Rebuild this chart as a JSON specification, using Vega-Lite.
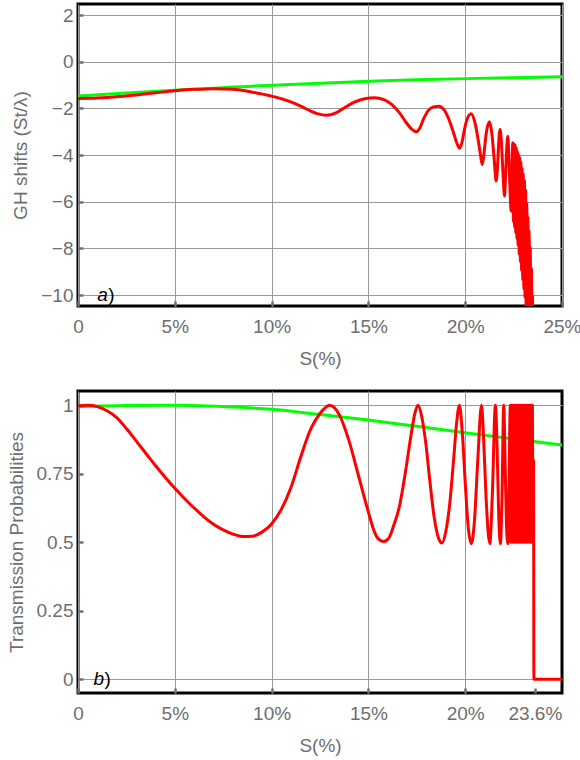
{
  "$schema": "https://vega.github.io/schema/vega-lite/v6.json",
  "padding": {"left": 5, "top": 2, "right": 0, "bottom": 0},
  "spacing": 19,
  "config": {
    "font": "Liberation Sans",
    "view": {"stroke": "black", "strokeWidth": 3},
    "axis": {
      "grid": true,
      "gridColor": "#9a9a9a",
      "gridWidth": 1,
      "domain": false,
      "labelColor": "#6e6e6e",
      "labelFontSize": 19,
      "labelFlush": false,
      "labelOverlap": false,
      "titleColor": "#6e6e6e",
      "titleFontSize": 19,
      "titleFontWeight": "normal",
      "tickColor": "#707070",
      "tickWidth": 2.5,
      "tickSize": -5
    },
    "axisX": {"labelPadding": 16, "titlePadding": 13},
    "axisY": {"labelPadding": 10, "titlePadding": 10}
  },
  "datasets": {
    "ghGreen": [
      {"S": 0, "shift": -1.47}, {"S": 2.5, "shift": -1.34}, {"S": 5, "shift": -1.22},
      {"S": 7.5, "shift": -1.11}, {"S": 10, "shift": -1.0}, {"S": 11, "shift": -0.97},
      {"S": 12.5, "shift": -0.92}, {"S": 15, "shift": -0.83}, {"S": 17.5, "shift": -0.77},
      {"S": 20, "shift": -0.72}, {"S": 22.5, "shift": -0.68}, {"S": 25, "shift": -0.64}
    ],
    "ghRed": [
      {"S": 0, "shift": -1.57}, {"S": 1, "shift": -1.55}, {"S": 2, "shift": -1.5},
      {"S": 3, "shift": -1.42}, {"S": 4, "shift": -1.33}, {"S": 5, "shift": -1.24},
      {"S": 6, "shift": -1.18}, {"S": 7, "shift": -1.15}, {"S": 8, "shift": -1.18},
      {"S": 9, "shift": -1.3}, {"S": 10, "shift": -1.47}, {"S": 11, "shift": -1.72},
      {"S": 11.5, "shift": -1.9}, {"S": 12, "shift": -2.1}, {"S": 12.4, "shift": -2.23},
      {"S": 12.83, "shift": -2.29}, {"S": 13.3, "shift": -2.2}, {"S": 13.8, "shift": -1.95},
      {"S": 14.3, "shift": -1.72}, {"S": 14.8, "shift": -1.58}, {"S": 15.32, "shift": -1.54},
      {"S": 15.8, "shift": -1.62}, {"S": 16.2, "shift": -1.82}, {"S": 16.6, "shift": -2.18},
      {"S": 16.95, "shift": -2.6}, {"S": 17.25, "shift": -2.9}, {"S": 17.47, "shift": -3.0},
      {"S": 17.65, "shift": -2.85}, {"S": 17.85, "shift": -2.45}, {"S": 18.1, "shift": -2.08},
      {"S": 18.35, "shift": -1.93}, {"S": 18.64, "shift": -1.9}, {"S": 18.9, "shift": -2.05},
      {"S": 19.15, "shift": -2.45}, {"S": 19.4, "shift": -3.05}, {"S": 19.6, "shift": -3.55},
      {"S": 19.71, "shift": -3.71}, {"S": 19.82, "shift": -3.5}, {"S": 19.95, "shift": -2.95},
      {"S": 20.1, "shift": -2.45}, {"S": 20.31, "shift": -2.23}, {"S": 20.5, "shift": -2.6},
      {"S": 20.7, "shift": -3.5}, {"S": 20.8, "shift": -4.05}, {"S": 20.88, "shift": -4.4},
      {"S": 20.96, "shift": -4.0}, {"S": 21.08, "shift": -3.1}, {"S": 21.25, "shift": -2.57},
      {"S": 21.38, "shift": -3.1}, {"S": 21.5, "shift": -4.2}, {"S": 21.6, "shift": -5.11},
      {"S": 21.67, "shift": -4.5}, {"S": 21.73, "shift": -3.5}, {"S": 21.8, "shift": -2.9},
      {"S": 21.88, "shift": -3.6}, {"S": 21.96, "shift": -4.9}, {"S": 22.03, "shift": -5.75},
      {"S": 22.08, "shift": -5.0}, {"S": 22.14, "shift": -3.8}, {"S": 22.2, "shift": -3.19},
      {"S": 22.26, "shift": -4.2}, {"S": 22.32, "shift": -5.6}, {"S": 22.37, "shift": -6.4},
      {"S": 22.41, "shift": -5.0}, {"S": 22.46, "shift": -3.47},
      {"S": 22.49, "shift": -6.85}, {"S": 22.52, "shift": -3.52}, {"S": 22.55, "shift": -7.08},
      {"S": 22.58, "shift": -3.57}, {"S": 22.61, "shift": -7.33}, {"S": 22.64, "shift": -3.7},
      {"S": 22.67, "shift": -7.58}, {"S": 22.7, "shift": -3.85}, {"S": 22.73, "shift": -7.86},
      {"S": 22.76, "shift": -3.97}, {"S": 22.79, "shift": -8.25}, {"S": 22.82, "shift": -4.1},
      {"S": 22.85, "shift": -8.58}, {"S": 22.88, "shift": -4.3}, {"S": 22.91, "shift": -8.95},
      {"S": 22.94, "shift": -4.55}, {"S": 22.97, "shift": -9.35}, {"S": 23.0, "shift": -4.8},
      {"S": 23.03, "shift": -9.75}, {"S": 23.06, "shift": -5.1}, {"S": 23.09, "shift": -10.1},
      {"S": 23.12, "shift": -5.5}, {"S": 23.15, "shift": -11}, {"S": 23.18, "shift": -6.05},
      {"S": 23.21, "shift": -11}, {"S": 23.24, "shift": -6.65}, {"S": 23.27, "shift": -11},
      {"S": 23.3, "shift": -7.25}, {"S": 23.33, "shift": -11}, {"S": 23.36, "shift": -7.95},
      {"S": 23.39, "shift": -11}, {"S": 23.42, "shift": -8.85}, {"S": 23.45, "shift": -11},
      {"S": 23.47, "shift": -10.0}, {"S": 23.49, "shift": -11}
    ],
    "tGreen": [
      {"S": 0, "T": 0.995}, {"S": 2.5, "T": 0.999}, {"S": 5, "T": 1.0}, {"S": 7.5, "T": 0.995},
      {"S": 10, "T": 0.985}, {"S": 12.5, "T": 0.966}, {"S": 15, "T": 0.946}, {"S": 17.5, "T": 0.923},
      {"S": 20, "T": 0.9}, {"S": 22.5, "T": 0.877}, {"S": 25, "T": 0.855}
    ],
    "tRed": [
      {"S": 0, "T": 0.997}, {"S": 0.5, "T": 1.0}, {"S": 1.0, "T": 0.995}, {"S": 1.5, "T": 0.98},
      {"S": 2, "T": 0.955}, {"S": 2.5, "T": 0.915}, {"S": 3, "T": 0.87}, {"S": 3.5, "T": 0.825},
      {"S": 4, "T": 0.78}, {"S": 4.5, "T": 0.737}, {"S": 5, "T": 0.697}, {"S": 5.5, "T": 0.66},
      {"S": 6, "T": 0.625}, {"S": 6.5, "T": 0.593}, {"S": 7, "T": 0.566}, {"S": 7.5, "T": 0.545},
      {"S": 8, "T": 0.53}, {"S": 8.5, "T": 0.521}, {"S": 9, "T": 0.522}, {"S": 9.5, "T": 0.537},
      {"S": 10, "T": 0.567}, {"S": 10.5, "T": 0.62}, {"S": 11, "T": 0.7}, {"S": 11.5, "T": 0.81},
      {"S": 12, "T": 0.91}, {"S": 12.5, "T": 0.97}, {"S": 13, "T": 1.0}, {"S": 13.5, "T": 0.965},
      {"S": 14, "T": 0.87}, {"S": 14.5, "T": 0.74}, {"S": 15, "T": 0.61}, {"S": 15.3, "T": 0.54},
      {"S": 15.55, "T": 0.51}, {"S": 15.8, "T": 0.503}, {"S": 16.05, "T": 0.515}, {"S": 16.3, "T": 0.56},
      {"S": 16.6, "T": 0.63}, {"S": 16.9, "T": 0.75}, {"S": 17.2, "T": 0.89}, {"S": 17.4, "T": 0.97},
      {"S": 17.56, "T": 1.0}, {"S": 17.75, "T": 0.96}, {"S": 17.95, "T": 0.87}, {"S": 18.15, "T": 0.74},
      {"S": 18.4, "T": 0.59}, {"S": 18.6, "T": 0.52}, {"S": 18.8, "T": 0.497}, {"S": 19.0, "T": 0.54},
      {"S": 19.2, "T": 0.64}, {"S": 19.4, "T": 0.8}, {"S": 19.55, "T": 0.93}, {"S": 19.7, "T": 1.0},
      {"S": 19.85, "T": 0.9}, {"S": 20.0, "T": 0.72}, {"S": 20.15, "T": 0.56}, {"S": 20.32, "T": 0.495},
      {"S": 20.48, "T": 0.58}, {"S": 20.65, "T": 0.8}, {"S": 20.84, "T": 1.0}, {"S": 20.95, "T": 0.88},
      {"S": 21.08, "T": 0.66}, {"S": 21.27, "T": 0.495}, {"S": 21.4, "T": 0.67}, {"S": 21.56, "T": 1.0},
      {"S": 21.65, "T": 0.84}, {"S": 21.73, "T": 0.6}, {"S": 21.82, "T": 0.495}, {"S": 21.9, "T": 0.66},
      {"S": 21.99, "T": 1.0}, {"S": 22.06, "T": 0.8}, {"S": 22.13, "T": 0.57}, {"S": 22.2, "T": 0.495},
      {"S": 22.26, "T": 0.7}, {"S": 22.33, "T": 1.0}, {"S": 22.36, "T": 0.5}, {"S": 22.39, "T": 1.0},
      {"S": 22.42, "T": 0.5}, {"S": 22.45, "T": 1.0}, {"S": 22.48, "T": 0.5}, {"S": 22.51, "T": 1.0},
      {"S": 22.54, "T": 0.5}, {"S": 22.57, "T": 1.0}, {"S": 22.6, "T": 0.5}, {"S": 22.63, "T": 1.0},
      {"S": 22.66, "T": 0.5}, {"S": 22.69, "T": 1.0}, {"S": 22.72, "T": 0.5}, {"S": 22.75, "T": 1.0},
      {"S": 22.78, "T": 0.5}, {"S": 22.81, "T": 1.0}, {"S": 22.84, "T": 0.5}, {"S": 22.87, "T": 1.0},
      {"S": 22.9, "T": 0.5}, {"S": 22.93, "T": 1.0}, {"S": 22.96, "T": 0.5}, {"S": 22.99, "T": 1.0},
      {"S": 23.02, "T": 0.5}, {"S": 23.05, "T": 1.0}, {"S": 23.08, "T": 0.5}, {"S": 23.11, "T": 1.0},
      {"S": 23.14, "T": 0.5}, {"S": 23.17, "T": 1.0}, {"S": 23.2, "T": 0.5}, {"S": 23.23, "T": 1.0},
      {"S": 23.26, "T": 0.5}, {"S": 23.29, "T": 1.0}, {"S": 23.32, "T": 0.5}, {"S": 23.35, "T": 1.0},
      {"S": 23.38, "T": 0.5}, {"S": 23.41, "T": 1.0}, {"S": 23.44, "T": 0.5}, {"S": 23.47, "T": 1.0},
      {"S": 23.5, "T": 0.5}, {"S": 23.53, "T": 0.8}, {"S": 23.55, "T": 0}, {"S": 25, "T": 0}
    ]
  },
  "vconcat": [
    {
      "width": 484,
      "height": 302,
      "layer": [
        {
          "data": {"name": "ghGreen"},
          "mark": {"type": "line", "color": "#00ff00", "strokeWidth": 3, "clip": true, "interpolate": "monotone"},
          "encoding": {
            "x": {"field": "S", "type": "quantitative",
                  "scale": {"domain": [0, 25], "nice": false, "zero": false},
                  "axis": {"values": [0, 5, 10, 15, 20, 25], "labelExpr": "datum.value == 0 ? '0' : datum.value + '%'", "title": "S(%)"}},
            "y": {"field": "shift", "type": "quantitative",
                  "scale": {"domain": [-10.47, 2.48], "nice": false, "zero": false},
                  "axis": {"values": [-10, -8, -6, -4, -2, 0, 2], "title": "GH shifts (St/λ)"}}
          }
        },
        {
          "data": {"name": "ghRed"},
          "mark": {"type": "line", "color": "#ff0000", "strokeWidth": 3, "clip": true, "interpolate": "monotone"},
          "encoding": {
            "x": {"field": "S", "type": "quantitative"},
            "y": {"field": "shift", "type": "quantitative"}
          }
        },
        {
          "data": {"values": [{}]},
          "mark": {"type": "text", "text": "a", "fontStyle": "italic", "fontSize": 19, "align": "left", "baseline": "middle", "color": "black"},
          "encoding": {
            "x": {"datum": 1.0, "type": "quantitative"},
            "y": {"datum": -10, "type": "quantitative"}
          }
        },
        {
          "data": {"values": [{}]},
          "mark": {"type": "text", "text": ")", "fontSize": 19, "align": "left", "baseline": "middle", "color": "black", "dx": 11},
          "encoding": {
            "x": {"datum": 1.0, "type": "quantitative"},
            "y": {"datum": -10, "type": "quantitative"}
          }
        }
      ]
    },
    {
      "width": 484,
      "height": 302,
      "layer": [
        {
          "data": {"name": "tGreen"},
          "mark": {"type": "line", "color": "#00ff00", "strokeWidth": 3, "clip": true, "interpolate": "monotone"},
          "encoding": {
            "x": {"field": "S", "type": "quantitative",
                  "scale": {"domain": [0, 25], "nice": false, "zero": false},
                  "axis": {"values": [0, 5, 10, 15, 20, 23.6],
                           "labelExpr": "datum.value == 0 ? '0' : datum.value + '%'",
                           "gridOpacity": {"condition": {"test": "datum.value == 23.6", "value": 0}, "value": 1},
                           "title": "S(%)"}},
            "y": {"field": "T", "type": "quantitative",
                  "scale": {"domain": [-0.05, 1.052], "nice": false, "zero": false},
                  "axis": {"values": [0, 0.2, 0.25, 0.4, 0.5, 0.6, 0.75, 0.8, 1],
                           "labelExpr": "(datum.value == 0.2 || datum.value == 0.4 || datum.value == 0.6 || datum.value == 0.8) ? '' : '' + datum.value",
                           "gridOpacity": {"condition": {"test": "datum.value == 0.25 || datum.value == 0.5 || datum.value == 0.75", "value": 0}, "value": 1},
                           "tickOpacity": {"condition": {"test": "datum.value == 0.2 || datum.value == 0.4 || datum.value == 0.6 || datum.value == 0.8", "value": 0}, "value": 1},
                           "title": "Transmission Probabilities"}}
          }
        },
        {
          "data": {"name": "tRed"},
          "mark": {"type": "line", "color": "#ff0000", "strokeWidth": 3, "clip": true, "interpolate": "monotone"},
          "encoding": {
            "x": {"field": "S", "type": "quantitative"},
            "y": {"field": "T", "type": "quantitative"}
          }
        },
        {
          "data": {"values": [{}]},
          "mark": {"type": "text", "text": "b", "fontStyle": "italic", "fontSize": 19, "align": "left", "baseline": "middle", "color": "black"},
          "encoding": {
            "x": {"datum": 0.8, "type": "quantitative"},
            "y": {"datum": 0, "type": "quantitative"}
          }
        },
        {
          "data": {"values": [{}]},
          "mark": {"type": "text", "text": ")", "fontSize": 19, "align": "left", "baseline": "middle", "color": "black", "dx": 11},
          "encoding": {
            "x": {"datum": 0.8, "type": "quantitative"},
            "y": {"datum": 0, "type": "quantitative"}
          }
        }
      ]
    }
  ]
}
